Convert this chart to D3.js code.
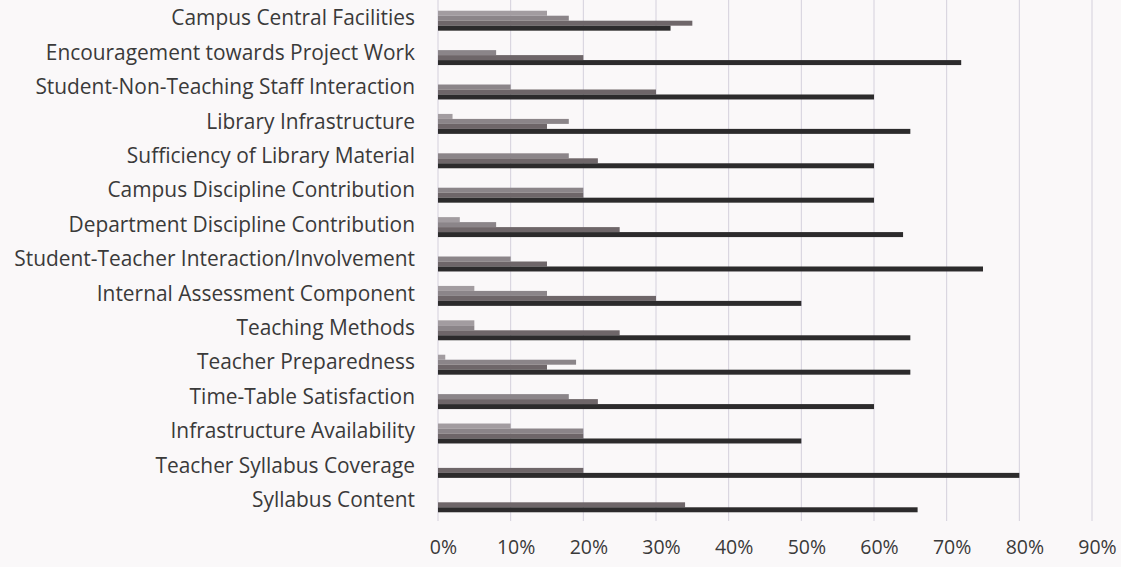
<!DOCTYPE html>
<html>
<head>
<meta charset="utf-8">
<script src="https://cdn.jsdelivr.net/npm/d3@7"></script>
<style>
  html, body { margin: 0; padding: 0; background: #faf8f9; }
  svg { display: block; }
</style>
</head>
<body>
<svg id="chart" width="1121" height="567"></svg>
<script>
const categories = [
  "Campus Central Facilities",
  "Encouragement towards Project Work",
  "Student-Non-Teaching Staff Interaction",
  "Library Infrastructure",
  "Sufficiency of Library Material",
  "Campus Discipline Contribution",
  "Department Discipline Contribution",
  "Student-Teacher Interaction/Involvement",
  "Internal Assessment Component",
  "Teaching Methods",
  "Teacher Preparedness",
  "Time-Table Satisfaction",
  "Infrastructure Availability",
  "Teacher Syllabus Coverage",
  "Syllabus Content"
];
const seriesNames = ["Series 1", "Series 2", "Series 3", "Series 4"];
const series1 = [15, 0, 0, 2, 0, 0, 3, 0, 5, 5, 1, 0, 10, 0, 0];
const series2 = [18, 8, 10, 18, 18, 20, 8, 10, 15, 5, 19, 18, 20, 0, 0];
const series3 = [35, 20, 30, 15, 22, 20, 25, 15, 30, 25, 15, 22, 20, 20, 34];
const series4 = [32, 72, 60, 65, 60, 60, 64, 75, 50, 65, 65, 60, 50, 80, 66];
const tickValues = [0, 10, 20, 30, 40, 50, 60, 70, 80, 90];

const seriesValues = [series1, series2, series3, series4];
const colors = ["#a29ca0", "#8b8589", "#6e6669", "#2c2b2c"];

const svg = d3.select("#chart");
const x = d3.scaleLinear().domain([0, 90]).range([438, 1092]);
const y = d3.scaleBand().domain(categories).range([3.5, 519.5]).paddingInner(0.42).paddingOuter(0.21);
const ySub = d3.scaleBand().domain(seriesNames).range([0, y.bandwidth()]);

// gridlines
svg.append("g").selectAll("line").data(tickValues).join("line")
  .attr("x1", d => x(d)).attr("x2", d => x(d))
  .attr("y1", 0).attr("y2", 521)
  .attr("stroke", "#d4d0dc").attr("stroke-width", 1);

// bars
const groups = svg.append("g").selectAll("g").data(categories).join("g")
  .attr("transform", d => `translate(0,${y(d)})`);
groups.selectAll("rect")
  .data((c, i) => seriesNames.map((s, k) => ({ s, k, v: seriesValues[k][i] })))
  .join("rect")
  .attr("x", x(0))
  .attr("y", d => ySub(d.s))
  .attr("width", d => x(d.v) - x(0))
  .attr("height", ySub.bandwidth())
  .attr("fill", d => colors[d.k]);

// category labels
const yAxis = d3.axisLeft(y).tickSize(0).tickPadding(0);
const gy = svg.append("g").attr("transform", "translate(415,-2)").call(yAxis);
gy.select(".domain").remove();
gy.selectAll("text")
  .attr("font-family", "'Open Sans', sans-serif")
  .attr("font-size", 20.9)
  .attr("fill", "#3a3a3a");

// x axis labels
const xAxis = d3.axisBottom(x).tickValues(tickValues).tickFormat(d => d + "%").tickSize(0).tickPadding(0);
const gx = svg.append("g").attr("transform", "translate(5,540)").call(xAxis);
gx.select(".domain").remove();
gx.selectAll("text")
  .attr("font-family", "'Open Sans', sans-serif")
  .attr("font-size", 19.5)
  .attr("fill", "#3a3a3a");
</script>
</body>
</html>
